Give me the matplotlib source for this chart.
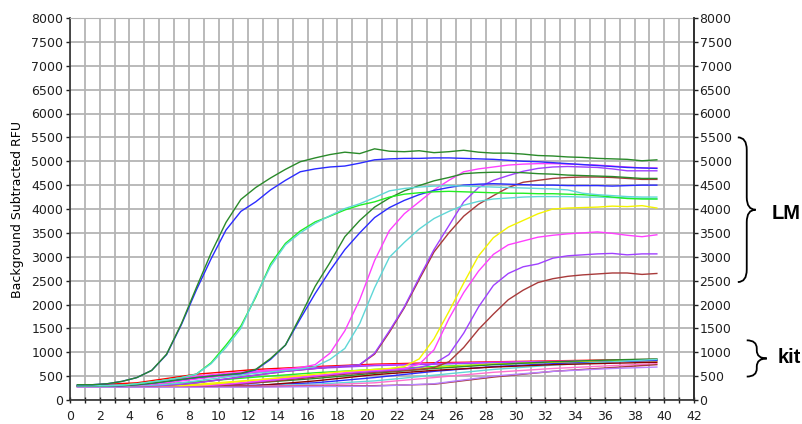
import numpy as np
import matplotlib.pyplot as plt
from matplotlib.path import Path
from matplotlib.patches import PathPatch

# cycle positions of the plotted points
cycles = np.arange(0.5, 40, 1.0)
kit_cycles = [0.5, 4.5, 8.5, 12.5, 16.5, 20.5, 24.5, 28.5, 32.5, 36.5, 39.5]

# LM amplification curves (RFU per cycle)
lm_green1 = [320, 320, 340, 390, 470, 620, 960, 1600, 2350, 3080,
             3720, 4200, 4450, 4650, 4830, 4990, 5070, 5140, 5190, 5160,
             5260, 5210, 5200, 5220, 5180, 5200, 5230, 5190, 5170, 5170,
             5150, 5120, 5110, 5090, 5080, 5060, 5050, 5040, 5010, 5030]
lm_blue1 = [320, 320, 340, 390, 470, 620, 950, 1580, 2300, 2960,
            3560, 3950, 4150, 4400, 4600, 4780, 4840, 4880, 4900, 4960,
            5030, 5050, 5060, 5060, 5070, 5070, 5060, 5050, 5040, 5020,
            5000, 4990, 4970, 4950, 4930, 4910, 4890, 4870, 4860, 4850]
lm_cyan1 = [300, 300, 300, 310, 340, 380, 420, 470, 540, 760,
            1100, 1500, 2180, 2800, 3250, 3500, 3700, 3860, 4010, 4110,
            4240, 4380, 4430, 4460, 4480, 4490, 4480, 4470, 4460, 4450,
            4440, 4430, 4420, 4400, 4330, 4300, 4280, 4260, 4250, 4250]
lm_lime1 = [300, 300, 300, 310, 340, 380, 420, 470, 540, 780,
            1150, 1550, 2150, 2850, 3280, 3540, 3730, 3850, 3980, 4080,
            4150, 4250, 4310, 4340, 4360, 4370, 4360, 4350, 4340, 4330,
            4330, 4320, 4320, 4310, 4300, 4280, 4250, 4220, 4210, 4210]
lm_green2 = [300, 300, 300, 300, 320, 350, 390, 430, 470, 500,
             530, 560, 640, 870, 1150, 1750, 2380, 2880, 3420, 3760,
             4040, 4230, 4380, 4490, 4590, 4660, 4740, 4760, 4770, 4770,
             4760, 4740, 4730, 4710, 4700, 4690, 4680, 4660, 4640, 4640]
lm_blue2 = [300, 300, 300, 300, 320, 350, 390, 430, 470, 500,
            530, 550, 630, 850, 1150, 1700, 2230, 2710, 3150, 3500,
            3820, 4030, 4180, 4300, 4390, 4450, 4500, 4520, 4530, 4520,
            4510, 4500, 4500, 4490, 4490, 4490, 4480, 4490, 4500, 4500]
lm_magenta1 = [300, 300, 300, 300, 310, 330, 360, 400, 440, 480,
               520, 560, 590, 620, 650, 680, 740, 980, 1450, 2100,
               2920, 3550, 3900, 4150, 4400, 4600, 4780, 4840, 4880, 4920,
               4940, 4950, 4950, 4940, 4930, 4920, 4900, 4880, 4860, 4860]
lm_cyan2 = [300, 300, 300, 300, 300, 310, 330, 360, 400, 440,
            480, 520, 560, 590, 620, 650, 700, 850, 1080, 1600,
            2350, 2990, 3300, 3580, 3800, 3950, 4080, 4160, 4210, 4230,
            4250, 4260, 4260, 4260, 4250, 4250, 4240, 4230, 4220, 4210]
lm_purple1 = [300, 300, 300, 300, 300, 300, 310, 330, 360, 400,
              440, 480, 520, 560, 600, 630, 660, 690, 710, 740,
              980, 1450, 1950, 2560, 3150, 3650, 4150, 4450, 4600, 4700,
              4790, 4850, 4880, 4890, 4880, 4870, 4840, 4800, 4800, 4800]
lm_brown1 = [300, 300, 300, 300, 300, 300, 310, 330, 360, 400,
             440, 480, 520, 560, 600, 630, 660, 690, 710, 740,
             960, 1420, 1930, 2520, 3100, 3500, 3850, 4100, 4280, 4450,
             4560, 4600, 4640, 4660, 4670, 4670, 4660, 4640, 4620, 4620]
lm_yellow = [300, 300, 300, 300, 300, 300, 300, 300, 310, 330,
             360, 390, 420, 450, 480, 510, 540, 570, 600, 620,
             640, 660, 700, 860, 1280, 1850, 2450, 3020, 3400, 3620,
             3760, 3900, 4000, 4020, 4030, 4040, 4060, 4050, 4070, 4020]
lm_magenta2 = [300, 300, 300, 300, 300, 300, 300, 300, 300, 310,
               330, 360, 390, 420, 450, 480, 510, 540, 570, 600,
               620, 640, 660, 750, 1050, 1700, 2250, 2700, 3050, 3250,
               3330, 3410, 3450, 3480, 3500, 3520, 3490, 3450, 3420, 3460]
lm_purple2 = [300, 300, 300, 300, 300, 300, 300, 300, 300, 310,
              330, 350, 380, 410, 440, 470, 500, 530, 560, 580,
              600, 620, 640, 680, 760, 950, 1400, 1950, 2400, 2650,
              2790, 2850, 2970, 3020, 3040, 3060, 3070, 3040, 3060, 3060]
lm_brown2 = [300, 300, 300, 300, 300, 300, 300, 300, 300, 300,
             310, 330, 360, 390, 420, 450, 480, 510, 540, 560,
             580, 600, 620, 640, 680, 800, 1100, 1480, 1800, 2100,
             2300, 2460, 2540, 2590, 2620, 2640, 2660, 2660, 2630, 2650]

# kit curves (RFU at kit_cycles)
kit_red = [300, 360, 540, 640, 700, 750, 780, 800, 820, 840, 850]
kit_magenta = [290, 320, 500, 610, 680, 730, 760, 790, 810, 830, 840]
kit_purple = [300, 310, 450, 580, 660, 720, 750, 780, 800, 810, 820]
kit_lime = [300, 300, 380, 480, 570, 640, 700, 750, 790, 820, 840]
kit_yellow = [290, 290, 330, 420, 510, 590, 680, 750, 790, 810, 820]
kit_green = [300, 300, 300, 360, 450, 560, 660, 740, 800, 840, 860]
kit_blue = [300, 300, 300, 310, 360, 470, 600, 700, 760, 800, 830]
kit_cyan = [290, 290, 290, 300, 330, 400, 520, 640, 730, 800, 850]
kit_maroon = [280, 280, 290, 300, 400, 530, 620, 690, 740, 770, 790]
kit_pink = [280, 280, 280, 290, 310, 360, 470, 580, 660, 720, 760]
kit_brown = [280, 280, 280, 280, 290, 300, 330, 480, 600, 680, 740]
kit_lavender = [270, 270, 270, 270, 280, 290, 340, 500, 600, 660, 690]

C_DG = '#2a8a2a'
C_BLUE = '#2b2bff'
C_CYAN = '#5fd7d7'
C_LIME = '#22ee22'
C_MAG = '#ff40ff'
C_PUR = '#a040ff'
C_BROWN = '#a83a3a'
C_YEL = '#f4f400'
C_RED = '#ff0000'
C_MAROON = '#8b0000'
C_PINK = '#ff70d0'
C_LAV = '#b880ff'

fig = plt.figure(figsize=(8.03, 4.24), dpi=100)
ax = fig.add_axes([70 / 803, 24 / 424, 624 / 803, 382 / 424])

kit = [(kit_red, C_RED), (kit_magenta, C_MAG), (kit_purple, C_PUR),
       (kit_lime, C_LIME), (kit_yellow, C_YEL), (kit_green, C_DG),
       (kit_blue, C_BLUE), (kit_cyan, C_CYAN), (kit_maroon, C_MAROON),
       (kit_pink, C_PINK), (kit_brown, C_BROWN), (kit_lavender, C_LAV)]
for vals, col in kit:
    ax.plot(kit_cycles, vals, color=col, lw=1.0, zorder=2)

lm = [(lm_brown2, C_BROWN), (lm_purple2, C_PUR), (lm_magenta2, C_MAG),
      (lm_yellow, C_YEL), (lm_brown1, C_BROWN), (lm_purple1, C_PUR),
      (lm_cyan2, C_CYAN), (lm_magenta1, C_MAG), (lm_blue2, C_BLUE),
      (lm_green2, C_DG), (lm_lime1, C_LIME), (lm_cyan1, C_CYAN),
      (lm_blue1, C_BLUE), (lm_green1, C_DG)]
for vals, col in lm:
    ax.plot(cycles, vals, color=col, lw=1.0, zorder=3)

ax.set_xlim(0, 42)
ax.set_ylim(0, 8000)
ax.set_xticks(range(43))
ax.set_xticklabels([str(i) if i % 2 == 0 else '' for i in range(43)])
ax.set_yticks(range(0, 8001, 500))
ax.grid(True, color='#b4b4b4', lw=1.3, zorder=0)
ax.set_axisbelow(True)
ax.tick_params(axis='x', direction='inout', length=5, width=1, pad=5,
               labelsize=9, colors='#202020')
ax.tick_params(axis='y', direction='out', length=3, width=1, pad=2,
               labelsize=9, colors='#202020')
ax.set_ylabel('Background Subtracted RFU', fontsize=9)
ax.yaxis.set_label_coords(-0.073, 0.5)
for s in ['left', 'bottom', 'right']:
    ax.spines[s].set_color('#303030')
    ax.spines[s].set_linewidth(1.2)
ax.spines['top'].set_color('#b4b4b4')

ax2 = ax.twinx()
ax2.set_ylim(0, 8000)
ax2.set_yticks(range(0, 8001, 500))
ax2.tick_params(axis='y', direction='out', length=3, width=1, pad=1,
                labelsize=9, colors='#202020')
ax2.spines['right'].set_color('#303030')
ax2.spines['right'].set_linewidth(1.2)
for s in ['left', 'top', 'bottom']:
    ax2.spines[s].set_visible(False)


def brace(x0, x1, ytop, ybot, r):
    xm = (x0 + x1) / 2
    ym = (ytop + ybot) / 2
    verts = [(x0, ytop), (xm, ytop), (xm, ytop - r),
             (xm, ym + r), (xm, ym), (x1, ym),
             (xm, ym), (xm, ym - r),
             (xm, ybot + r), (xm, ybot), (x0, ybot)]
    codes = [Path.MOVETO, Path.CURVE3, Path.CURVE3,
             Path.LINETO, Path.CURVE3, Path.CURVE3,
             Path.CURVE3, Path.CURVE3,
             Path.LINETO, Path.CURVE3, Path.CURVE3]
    p = PathPatch(Path(verts, codes), fill=False, lw=1.3, color='black',
                  clip_on=False, transform=ax.transData)
    ax.add_patch(p)


brace(44.95, 46.15, 5500, 2470, 260)
brace(45.55, 46.9, 1250, 490, 170)
ax.text(47.2, 3900, 'LM', fontsize=14.5, fontweight='bold',
        family='Liberation Sans', ha='left', va='center', clip_on=False)
ax.text(47.6, 880, 'kit', fontsize=14.5, fontweight='bold',
        family='Liberation Sans', ha='left', va='center', clip_on=False)

fig.savefig('out.png', dpi=100, facecolor='white')
